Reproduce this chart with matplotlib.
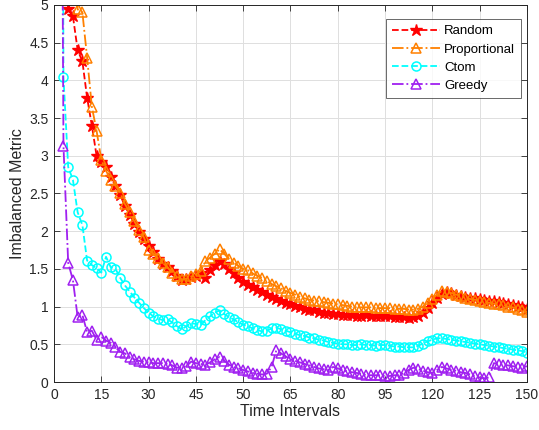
import numpy as np
import matplotlib
matplotlib.use('Agg')
import matplotlib.pyplot as plt

plt.rcParams['font.family'] = ['Liberation Sans', 'DejaVu Sans']

# Data
time = np.arange(1, 101) * 1.5

random_vals = [
    20, 6.5, 4.94, 4.85, 4.40, 4.25, 3.77, 3.40, 3.00, 2.92,
    2.85, 2.72, 2.60, 2.48, 2.33, 2.22, 2.10, 1.99, 1.90, 1.80,
    1.72, 1.63, 1.57, 1.52, 1.47, 1.40, 1.35, 1.36, 1.39, 1.40,
    1.45, 1.38, 1.48, 1.55, 1.60, 1.56, 1.50, 1.44, 1.38, 1.33,
    1.29, 1.26, 1.22, 1.19, 1.16, 1.13, 1.10, 1.07, 1.05, 1.03,
    1.01, 0.99, 0.97, 0.96, 0.95, 0.93, 0.92, 0.91, 0.90, 0.90,
    0.89, 0.89, 0.89, 0.88, 0.88, 0.89, 0.88, 0.88, 0.87, 0.87,
    0.87, 0.86, 0.86, 0.86, 0.85, 0.86, 0.88, 0.92, 0.98, 1.05,
    1.12, 1.17, 1.19, 1.18, 1.16, 1.14, 1.13, 1.12, 1.11, 1.10,
    1.09, 1.08, 1.07, 1.06, 1.05, 1.04, 1.02, 1.01, 0.99, 0.97]

proportional_vals = [
    30, 12, 7, 9, 4.94, 4.90, 4.30, 3.65, 3.33, 2.95,
    2.80, 2.68, 2.60, 2.51, 2.36, 2.25, 2.13, 2.02, 1.92, 1.75,
    1.70, 1.64, 1.58, 1.52, 1.45, 1.40, 1.36, 1.37, 1.40, 1.43,
    1.47, 1.60, 1.65, 1.70, 1.76, 1.70, 1.63, 1.58, 1.54, 1.50,
    1.48, 1.44, 1.41, 1.38, 1.34, 1.30, 1.27, 1.24, 1.21, 1.18,
    1.16, 1.13, 1.11, 1.09, 1.08, 1.07, 1.06, 1.05, 1.04, 1.03,
    1.02, 1.01, 1.00, 0.99, 0.99, 0.99, 0.99, 0.98, 0.98, 0.98,
    0.98, 0.97, 0.97, 0.97, 0.96, 0.96, 0.97, 1.00, 1.05, 1.10,
    1.16, 1.21, 1.20, 1.18, 1.16, 1.14, 1.12, 1.10, 1.09, 1.08,
    1.06, 1.05, 1.04, 1.03, 1.02, 1.00, 0.99, 0.97, 0.95, 0.93]

ctom_vals = [
    25, 4.04, 2.85, 2.68, 2.25, 2.08, 1.61, 1.55, 1.51, 1.45,
    1.66, 1.52, 1.50, 1.38, 1.28, 1.20, 1.12, 1.05, 0.98, 0.92,
    0.87, 0.84, 0.82, 0.83, 0.79, 0.74, 0.70, 0.74, 0.78, 0.77,
    0.75, 0.82, 0.87, 0.92, 0.95, 0.90, 0.86, 0.83, 0.79, 0.76,
    0.74, 0.71, 0.69, 0.67, 0.68, 0.71, 0.72, 0.70, 0.68, 0.66,
    0.64, 0.62, 0.61, 0.59, 0.58, 0.56, 0.55, 0.53, 0.52, 0.51,
    0.50, 0.50, 0.49, 0.49, 0.50, 0.49, 0.49, 0.48, 0.49, 0.49,
    0.48, 0.47, 0.47, 0.46, 0.46, 0.46, 0.48, 0.51, 0.54, 0.56,
    0.58, 0.58, 0.57, 0.56, 0.55, 0.54, 0.53, 0.52, 0.51, 0.50,
    0.49, 0.48, 0.47, 0.46, 0.45, 0.44, 0.43, 0.42, 0.41, 0.39]

greedy_vals = [
    15, 3.13, 1.58, 1.35, 0.86, 0.89, 0.66, 0.68, 0.56, 0.60,
    0.55, 0.52, 0.46, 0.40, 0.38, 0.33, 0.30, 0.28, 0.27, 0.26,
    0.25, 0.25, 0.25, 0.24, 0.22, 0.19, 0.19, 0.21, 0.27, 0.25,
    0.24, 0.23, 0.26, 0.30, 0.33, 0.28, 0.23, 0.20, 0.18, 0.16,
    0.14, 0.12, 0.11, 0.10, 0.11, 0.20, 0.42, 0.38, 0.34, 0.30,
    0.28, 0.26, 0.24, 0.22, 0.20, 0.18, 0.17, 0.16, 0.20, 0.18,
    0.16, 0.14, 0.13, 0.12, 0.11, 0.09, 0.09, 0.09, 0.09, 0.08,
    0.08, 0.09, 0.09, 0.12, 0.16, 0.19, 0.17, 0.15, 0.13, 0.12,
    0.16, 0.20, 0.18, 0.16, 0.15, 0.13, 0.12, 0.10, 0.08, 0.06,
    0.05, 0.06, 0.25, 0.24, 0.23, 0.22, 0.21, 0.20, 0.19, 0.21]

xtick_pos = [0, 15, 30, 45, 60, 75, 90, 105, 120, 135, 150]
xtick_labels = ['0', '15', '30', '45', '50', '65', '80', '95', '120', '125', '150']
ytick_pos = [0, 0.5, 1, 1.5, 2, 2.5, 3, 3.5, 4, 4.5, 5]

# Plot
fig = plt.figure(figsize=(5.39, 4.30), dpi=100)
ax = fig.add_axes([0.1002, 0.1116, 0.8775, 0.877])

ax.plot(time, random_vals, color='#FF0000', linestyle='--', linewidth=1.3,
        marker='*', markersize=9, markerfacecolor='#FF0000',
        markeredgecolor='#FF0000', label='Random')
ax.plot(time, proportional_vals, color='#FF8000', linestyle='-.', linewidth=1.3,
        marker='^', markersize=7, markerfacecolor='none',
        markeredgecolor='#FF8000', markeredgewidth=1.1, label='Proportional')
ax.plot(time, ctom_vals, color='#00FFFF', linestyle='--', linewidth=1.3,
        marker='o', markersize=6.5, markerfacecolor='none',
        markeredgecolor='#00FFFF', markeredgewidth=1.1, label='Ctom')
ax.plot(time, greedy_vals, color='#A020F0', linestyle='-.', linewidth=1.3,
        marker='^', markersize=7, markerfacecolor='none',
        markeredgecolor='#A020F0', markeredgewidth=1.1, label='Greedy')

ax.set_xlim(0, 150)
ax.set_ylim(0, 5)
ax.set_xticks(xtick_pos)
ax.set_xticklabels(xtick_labels)
ax.set_yticks(ytick_pos)
ax.set_yticklabels(['0', '0.5', '1', '1.5', '2', '2.5', '3', '3.5', '4', '4.5', '5'])
ax.tick_params(direction='in', length=4, width=0.6, colors='#262626',
               labelsize=10, top=True, right=True, pad=4)
ax.grid(True, color='#DFDFDF', linewidth=0.7)
ax.set_axisbelow(True)
for sp in ax.spines.values():
    sp.set_color('#262626')
    sp.set_linewidth(0.7)

ax.set_xlabel('Time Intervals', fontsize=11.5, color='#262626', labelpad=2)
ax.set_ylabel('Imbalanced Metric', fontsize=11.5, color='#262626', labelpad=3)

leg = ax.legend(loc='upper right', bbox_to_anchor=(0.987, 0.962), fontsize=9.5,
                frameon=True, fancybox=False, edgecolor='#262626',
                handlelength=3.6, borderpad=0.45, labelspacing=0.45,
                handletextpad=0.3, borderaxespad=0)
leg.get_frame().set_linewidth(0.6)

fig.savefig('out.png', dpi=100)
